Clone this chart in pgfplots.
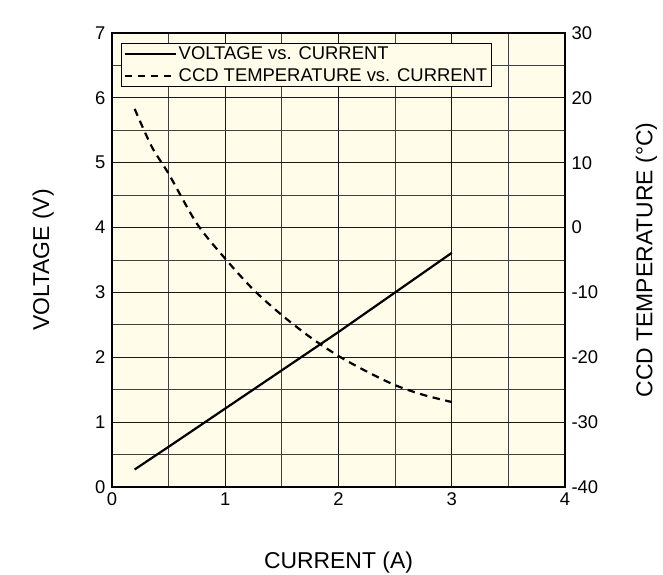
\documentclass[border=0pt]{standalone}
\usepackage{fontspec}
\setmainfont{Liberation Sans}
\usepackage{pgfplots}
\pgfplotsset{compat=1.18}
\definecolor{cream}{RGB}{255,252,233}

\pgfplotsset{
  twin/.style={
    scale only axis, width=453bp, height=454bp,
    at={(112bp,88bp)}, anchor=south west,
    xmin=0, xmax=4,
    tick style={draw=none},
    ticklabel style={font=\fontsize{18.5}{21}\selectfont},
    label style={font=\fontsize{23}{27}\selectfont},
    axis line style={line width=2bp},
  }
}

\begin{document}
\begin{tikzpicture}
\useasboundingbox (0,0) rectangle (663bp,575bp);

% voltage axis (left)
\begin{axis}[twin,
  ymin=0, ymax=7,
  axis background/.style={fill=cream},
  xtick={0,1,2,3,4}, xticklabels={0,1,2,3,4},
  ytick={0,...,7}, yticklabels={0,1,2,3,4,5,6,7},
  xticklabel style={yshift=-2bp},
  yticklabel style={xshift=-3bp},
  minor tick num=1,
  grid=both,
  major grid style={black!90, line width=0.9bp},
  minor grid style={black!75, line width=0.9bp},
  xlabel={CURRENT (A)},
  ylabel={VOLTAGE (V)},
  xlabel style={at={(axis description cs:0.5,-0.166)}, anchor=center},
  ylabel style={at={(axis description cs:-0.152,0.5)}, anchor=center},
]
\addplot[black, line width=2.2bp] coordinates {
  (0.2,0.27) (0.5,0.62) (1,1.21) (1.5,1.80) (2,2.39) (2.5,3.00) (3,3.61)
};
\end{axis}

% temperature axis (right)
\begin{axis}[twin,
  ymin=-40, ymax=30,
  hide x axis,
  axis y line*=right,
  ytick={-40,-30,...,30}, yticklabels={-40,-30,-20,-10,0,10,20,30},
  yticklabel style={xshift=3bp},
  ylabel={CCD TEMPERATURE (°C)},
  ylabel style={at={(axis description cs:1.18,0.5)}, anchor=center},
  legend style={at={(axis description cs:0.02,0.978)}, anchor=north west,
    fill=cream, draw=black, line width=0.9bp,
    font=\fontsize{18.5}{22}\selectfont,
    inner xsep=2bp, inner ysep=1bp, row sep=4bp,
    nodes={inner xsep=2bp}},
  legend cell align=left,
  legend image code/.code={\draw[#1] (0bp,0bp) -- (51bp,0bp);},
]
\addlegendimage{black, line width=2.2bp}
\addlegendentry{VOLTAGE vs. CURRENT}
\addplot[black, line width=2.2bp, dash pattern=on 7.5bp off 5.5bp, smooth] coordinates {
  (0.2,18.3) (0.35,12.5) (0.5,8.3) (0.75,0.6) (1,-4.8) (1.25,-9.6) (1.5,-13.5)
  (1.75,-16.9) (2,-19.8) (2.25,-22.2) (2.5,-24.3) (2.75,-25.8) (3,-26.9)
};
\addlegendentry{CCD TEMPERATURE vs. CURRENT}
\node[anchor=south east, font=\fontsize{18}{21}\selectfont, inner sep=0pt]
  at (axis description cs:1,1) [yshift=5bp] {(Typ. Ta=25 °C)};
\end{axis}
\end{tikzpicture}
\end{document}
